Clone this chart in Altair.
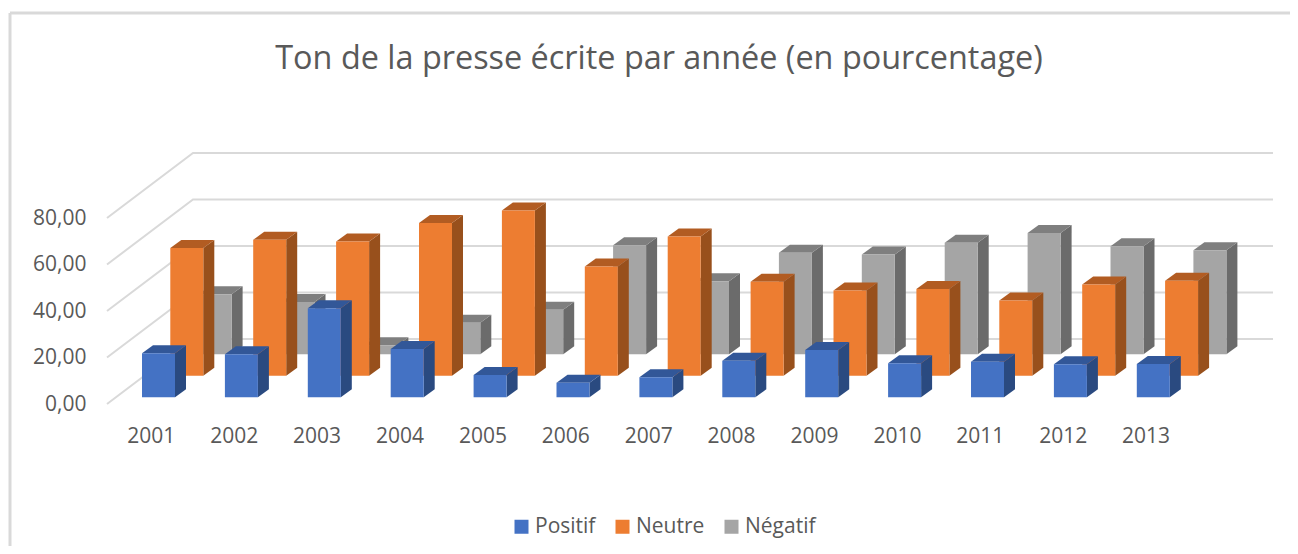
import altair as alt
import pandas as pd

years = [2001, 2002, 2003, 2004, 2005, 2006, 2007, 2008, 2009, 2010, 2011, 2012, 2013]
positif = [19.0, 18.5, 38.3, 20.8, 9.6, 6.3, 8.6, 15.7, 20.3, 14.6, 15.3, 14.2, 14.3]
neutre = [55.0, 58.5, 57.8, 65.7, 71.1, 47.0, 59.9, 40.4, 36.7, 37.3, 32.4, 39.3, 40.9]
negatif = [25.8, 22.5, 3.9, 13.6, 19.2, 46.9, 31.4, 43.7, 42.9, 48.0, 52.2, 46.5, 44.7]
y_ticks = [0, 20, 40, 60, 80]
series_names = ["Positif", "Neutre", "Négatif"]
front_colors = ["#4472C4", "#ED7D31", "#A5A5A5"]
top_colors = ["#325798", "#B25C22", "#7F7F7F"]
side_colors = ["#2A4A80", "#98501C", "#6B6B6B"]
title_text = "Ton de la presse écrite par année (en pourcentage)"
font = "Open Sans"
text_color = "#595959"
grid_color = "#D9D9D9"

# Page pixels -> data units, used only to set the scale domains and depth offsets
X_STEP = 82.9
Y_STEP = 2.325
VIEW_W, VIEW_H = 1280, 533
LEFT, TOP = 10, 13
x_domain = [2001 + (LEFT - 150.8) / X_STEP, 2001 + (LEFT + VIEW_W - 150.8) / X_STEP]
y_domain = [(404 - (TOP + VIEW_H)) / Y_STEP, (404 - TOP) / Y_STEP]

bar_left = -8.8 / X_STEP
bar_w = 33 / X_STEP
side_dx = 11 / X_STEP
side_dy = 8 / Y_STEP
row_dx = 28.3 / X_STEP
row_dy = 21.5 / Y_STEP
base0 = 6.7 / Y_STEP
wall_dx = 86 / X_STEP
wall_dy = 65 / Y_STEP
wall_start = 2001 + (107 - 150.8) / X_STEP
wall_end = 2001 + (1273 - 150.8) / X_STEP

front_rows, side_rows, top_rows = [], [], []
for d, (name, vals) in enumerate(zip(series_names, [positif, neutre, negatif])):
    for yr, v in zip(years, vals):
        x0 = yr + bar_left + d * row_dx
        x1 = x0 + bar_w
        b = base0 + d * row_dy
        t = b + v
        front_rows.append(dict(series=name, year=yr, x0=x0, x1=x1, y0=b, y1=t))
        side_rows += [
            dict(series=name, year=yr, x=x1, y0=b, y1=t),
            dict(series=name, year=yr, x=x1 + side_dx, y0=b + side_dy, y1=t + side_dy),
        ]
        top_rows += [
            dict(series=name, year=yr, x=x0, y0=t, y1=t),
            dict(series=name, year=yr, x=x0 + side_dx, y0=t, y1=t + side_dy),
            dict(series=name, year=yr, x=x1, y0=t, y1=t + side_dy),
            dict(series=name, year=yr, x=x1 + side_dx, y0=t + side_dy, y1=t + side_dy),
        ]
front_df = pd.DataFrame(front_rows)
side_df = pd.DataFrame(side_rows)
top_df = pd.DataFrame(top_rows)

grid_rows = []
for v in y_ticks:
    grid_rows += [
        dict(tick=v, x=wall_start, y=v, o=0),
        dict(tick=v, x=wall_start + wall_dx, y=v + wall_dy, o=1),
        dict(tick=v, x=wall_end, y=v + wall_dy, o=2),
    ]
grid_df = pd.DataFrame(grid_rows)

xs = alt.Scale(domain=x_domain, nice=False, zero=False)
ys = alt.Scale(domain=y_domain, nice=False, zero=False)

axis_base = dict(
    grid=False, domain=False, ticks=False, title=None, labelFont=font, labelFontSize=21,
    labelColor=text_color, labelPadding=0, labelBound=False, labelFlush=False,
)
grid = alt.Chart(grid_df).mark_line(color=grid_color, strokeWidth=2).encode(
    x=alt.X("x:Q", scale=xs, axis=alt.Axis(values=years, format="d", offset=-121, orient="bottom",
                                          labelBaseline="top", **axis_base)),
    y=alt.Y("y:Q", scale=ys, axis=alt.Axis(values=y_ticks, offset=-76, orient="left",
                                          labelExpr="replace(format(datum.value, '.2f'), '.', ',')",
                                          **axis_base)),
    detail="tick:N",
    order="o:Q",
)

layers = [grid]
color_scale = alt.Scale(domain=series_names, range=front_colors)
for d in [2, 1, 0]:
    name = series_names[d]
    s = alt.Chart(side_df[side_df.series == name]).mark_area(color=side_colors[d], line=False).encode(
        x=alt.X("x:Q", scale=xs, axis=None),
        y=alt.Y("y0:Q", scale=ys, axis=None, stack=None),
        y2="y1:Q",
        detail="year:N",
    )
    t = alt.Chart(top_df[top_df.series == name]).mark_area(color=top_colors[d], line=False).encode(
        x=alt.X("x:Q", scale=xs, axis=None),
        y=alt.Y("y0:Q", scale=ys, axis=None, stack=None),
        y2="y1:Q",
        detail="year:N",
    )
    f = alt.Chart(front_df[front_df.series == name]).mark_rect().encode(
        x=alt.X("x0:Q", scale=xs, axis=None),
        x2="x1:Q",
        y=alt.Y("y0:Q", scale=ys, axis=None),
        y2="y1:Q",
        color=alt.Color(
            "series:N", scale=color_scale,
            legend=alt.Legend(
                title=None, orient="none", legendX=501, legendY=503, direction="horizontal",
                symbolType="square", symbolSize=196, symbolStrokeWidth=0, labelFont=font,
                labelFontSize=21, labelColor=text_color, columnPadding=16, labelOffset=3,
            ),
        ),
    )
    layers += [s, t, f]

# top and left frame lines of the chart area
frame_top = alt.Chart(pd.DataFrame({"v": [y_domain[1]]})).mark_rule(color=grid_color, strokeWidth=3).encode(
    y=alt.Y("v:Q", scale=ys, axis=None))
frame_left = alt.Chart(pd.DataFrame({"v": [x_domain[0]]})).mark_rule(color=grid_color, strokeWidth=3).encode(
    x=alt.X("v:Q", scale=xs, axis=None))
layers += [frame_top, frame_left]

chart = alt.layer(*layers).resolve_axis(x="independent", y="independent").properties(
    width=VIEW_W,
    height=VIEW_H,
    autosize=alt.AutoSizeParams(type="none"),
    padding={"left": 2, "top": 5, "right": 0, "bottom": 0},
    title=alt.TitleParams(
        text=title_text, font=font, fontSize=32.4, fontWeight="normal", color=text_color,
        anchor="middle", offset=-64, dx=9,
    ),
).configure_view(stroke=None).configure_axis(labelFontWeight="normal")

chart.save("out.html", embed_options={"renderer": "svg", "actions": False})
